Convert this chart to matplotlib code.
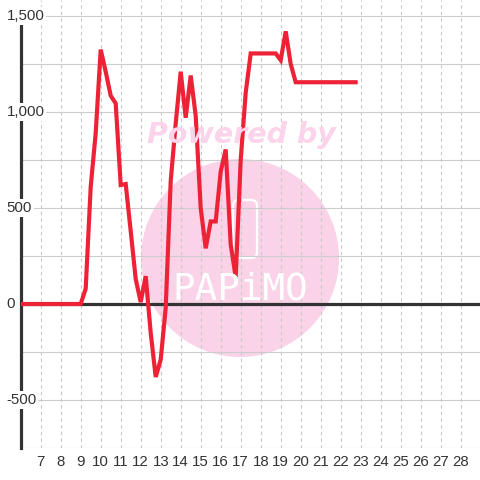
import matplotlib
matplotlib.use("Agg")
import matplotlib.pyplot as plt
from matplotlib.patches import Circle, FancyBboxPatch
from matplotlib.transforms import blended_transform_factory

# ---- data ----
hours = [6.0, 6.25, 6.5, 6.75, 7.0, 7.25, 7.5, 7.75, 8.0, 8.25, 8.5, 8.75, 9.0,
         9.25, 9.5, 9.75, 10.0, 10.25, 10.5, 10.75, 11.0, 11.25, 11.5, 11.75,
         12.0, 12.25, 12.5, 12.75, 13.0, 13.25, 13.5, 13.75, 14.0, 14.25, 14.5,
         14.75, 15.0, 15.25, 15.5, 15.75, 16.0, 16.25, 16.5, 16.75, 17.0, 17.25,
         17.5, 17.75, 18.0, 18.25, 18.5, 18.75, 19.0, 19.25, 19.5, 19.75, 20.0,
         20.25, 20.5, 20.75, 21.0, 21.25, 21.5, 21.75, 22.0, 22.25, 22.5, 22.85]
values = [0, 0, 0, 0, 0, 0, 0, 0, 0, 0, 0, 0, 0,
          80, 610, 890, 1325, 1210, 1085, 1045, 620, 625, 380, 130,
          10, 145, -150, -380, -290, -20, 640, 940, 1210, 970, 1190,
          980, 500, 290, 430, 430, 690, 805, 310, 140, 750, 1100,
          1305, 1305, 1305, 1305, 1305, 1305, 1270, 1420, 1250, 1155, 1155,
          1155, 1155, 1155, 1155, 1155, 1155, 1155, 1155, 1155, 1155, 1155]
x_ticks = list(range(7, 29))
y_ticks = [-500, 0, 500, 1000, 1500]
y_tick_labels = ["-500", "0", "500", "1,000", "1,500"]
y_grid = [-750, -500, -250, 250, 500, 750, 1000, 1250, 1500]

W, H = 480, 480
fig = plt.figure(figsize=(4.8, 4.8), dpi=100)
fig.patch.set_facecolor("white")
ax = fig.add_axes([20.7 / W, (H - 448) / H, 1 - 20.7 / W, 448 / H])
ax.set_facecolor("white")
ax.set_xlim(6, 6 + (W - 20.7) / 20)
ax.set_ylim(-750, 1500 + 16 * 500 / 96)

# watermark
circ = Circle((240 / W, 1 - 258 / H), 99 / W, transform=fig.transFigure,
              facecolor="#fad3e9", edgecolor="none", zorder=0.2, clip_on=False)
ax.add_artist(circ)
icon = FancyBboxPatch((233 / W, 1 - 258 / H), 24 / W, 58 / H,
                      boxstyle="round,pad=0,rounding_size=0.012",
                      transform=fig.transFigure, facecolor="none",
                      edgecolor="white", lw=1.6, zorder=0.3, clip_on=False)
ax.add_artist(icon)
fig.text(241 / W, 1 - 135 / H, "Powered by", ha="center", va="center",
         fontsize=20.5, fontweight="bold", style="italic", color="#fbd3ea",
         family="DejaVu Sans", zorder=0.3)
fig.text(240 / W, 1 - 290 / H, "PAPiMO", ha="center", va="center",
         fontsize=27, color="white", family="DejaVu Sans Mono", zorder=0.3)

# grid
for g in y_grid:
    ax.axhline(g, color="#cccccc", lw=0.8, zorder=0.5)
for xt in x_ticks:
    ax.axvline(xt, color="#c8c8c8", lw=0.8, ls=(0, (3, 3)), zorder=0.5)
ax.axhline(0, color="#333333", lw=2.3, zorder=1)

# series
ax.plot(hours, values, color="#ee2236", lw=3, solid_joinstyle="miter",
        solid_capstyle="butt", zorder=2)

# axes styling
for s in ["top", "right", "bottom"]:
    ax.spines[s].set_visible(False)
ax.spines["left"].set_color("#333333")
ax.spines["left"].set_linewidth(2.3)
ax.spines["left"].set_bounds(-750, 1500)
ax.spines["left"].set_zorder(1)

ax.set_xticks(x_ticks)
ax.set_xticklabels([str(t) for t in x_ticks])
ax.tick_params(axis="x", length=0, pad=5, labelsize=10.8, labelcolor="#333333")
for lab in ax.get_xticklabels():
    lab.set_family("Liberation Sans")
ax.set_yticks([])

trans = blended_transform_factory(ax.transAxes, ax.transData)
for v, lab in zip(y_ticks, y_tick_labels):
    ax.text(-14.2 / (W - 20.7), v, lab, transform=trans, ha="left", va="center",
            fontsize=10.8, color="#333333", family="Liberation Sans",
            bbox=dict(facecolor="white", edgecolor="none", pad=1.2),
            zorder=3, clip_on=False)

fig.savefig("out.png", dpi=100, facecolor="white")
